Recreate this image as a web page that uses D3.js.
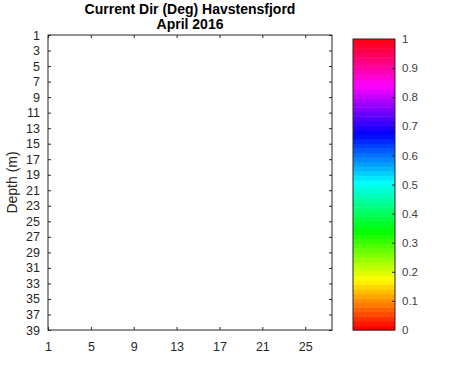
<!DOCTYPE html>
<html>
<head>
<meta charset="utf-8">
<script src="https://cdn.jsdelivr.net/npm/d3@7"></script>
<style>
  body { margin: 0; background: #fff; }
  text { font-family: "Liberation Sans", Arial, sans-serif; }
</style>
</head>
<body>
<div id="chart"></div>
<script>
// chart data
var titleLines = ["Current Dir (Deg) Havstensfjord", "April 2016"];
var yLabel = "Depth (m)";
var depthTicks = [1, 3, 5, 7, 9, 11, 13, 15, 17, 19, 21, 23, 25, 27, 29, 31, 33, 35, 37, 39];
var dayTicks = [1, 5, 9, 13, 17, 21, 25];
var dayRange = [1, 27.5];
var depthRange = [1, 39];
var cbarTicks = [0, 0.1, 0.2, 0.3, 0.4, 0.5, 0.6, 0.7, 0.8, 0.9, 1];
var nColors = 64;

var W = 471, H = 371;
var ink = "#262626";

var svg = d3.select("#chart").append("svg")
    .attr("width", W)
    .attr("height", H);

// main axes box
var plot = {left: 48, top: 35, right: 332, bottom: 330};

var x = d3.scaleLinear().domain(dayRange).range([plot.left, plot.right]);
var y = d3.scaleLinear().domain(depthRange).range([plot.top, plot.bottom]);

var tickLen = 3;

// y ticks + labels
svg.append("g")
    .attr("transform", "translate(" + plot.left + ",0)")
    .call(d3.axisLeft(y).tickValues(depthTicks).tickSize(-tickLen).tickPadding(8).tickFormat(d3.format("d")))
    .call(styleAxis, "12.5px");

svg.append("g")
    .attr("transform", "translate(" + plot.right + ",0)")
    .call(d3.axisRight(y).tickValues(depthTicks).tickSize(-tickLen).tickFormat(""))
    .call(styleAxis, "12.5px");

// x ticks + labels
svg.append("g")
    .attr("transform", "translate(0," + plot.bottom + ")")
    .call(d3.axisBottom(x).tickValues(dayTicks).tickSize(-tickLen).tickPadding(12).tickFormat(d3.format("d")))
    .call(styleAxis, "12.5px");

svg.append("g")
    .attr("transform", "translate(0," + plot.top + ")")
    .call(d3.axisTop(x).tickValues(dayTicks).tickSize(-tickLen).tickFormat(""))
    .call(styleAxis, "12.5px");

svg.selectAll(".domain").remove();

svg.append("rect")
    .attr("x", plot.left).attr("y", plot.top)
    .attr("width", plot.right - plot.left)
    .attr("height", plot.bottom - plot.top)
    .attr("fill", "none")
    .attr("stroke", ink)
    .attr("stroke-width", 1);

function styleAxis(g, size) {
    g.selectAll("line").attr("stroke", ink);
    g.selectAll("text")
        .attr("fill", ink)
        .style("font-size", size)
        .style("font-family", "'Liberation Sans', Arial, sans-serif");
}

// title
svg.append("text")
    .attr("x", (plot.left + plot.right) / 2)
    .attr("y", 14)
    .attr("text-anchor", "middle")
    .style("font-size", "14px")
    .style("font-weight", "bold")
    .attr("fill", "#000")
    .text(titleLines[0]);

svg.append("text")
    .attr("x", (plot.left + plot.right) / 2)
    .attr("y", 29)
    .attr("text-anchor", "middle")
    .style("font-size", "14px")
    .style("font-weight", "bold")
    .attr("fill", "#000")
    .text(titleLines[1]);

// y axis title
svg.append("text")
    .attr("transform", "translate(17," + ((plot.top + plot.bottom) / 2) + ") rotate(-90)")
    .attr("text-anchor", "middle")
    .style("font-size", "14px")
    .attr("fill", ink)
    .text(yLabel);

// colorbar
var cb = {left: 353, top: 39, right: 395, bottom: 330};
var c = d3.scaleLinear().domain([0, 1]).range([cb.bottom, cb.top]);

var steps = d3.range(nColors);
svg.append("g").selectAll("rect")
    .data(steps)
    .enter().append("rect")
    .attr("x", cb.left)
    .attr("width", cb.right - cb.left)
    .attr("y", function(d) { return c((d + 1) / nColors); })
    .attr("height", function(d) { return c(d / nColors) - c((d + 1) / nColors) + 0.5; })
    .attr("fill", function(d) { return d3.hsl(d / nColors * 360, 1, 0.5).toString(); });

svg.append("g")
    .attr("transform", "translate(" + cb.right + ",0)")
    .call(d3.axisRight(c).tickValues(cbarTicks).tickSize(-tickLen).tickPadding(7)
        .tickFormat(function(d) { return d === 0 || d === 1 ? d3.format("d")(d) : d3.format(".1f")(d); }))
    .call(styleAxis, "11.5px")
    .call(function(g) {
        g.select(".domain").remove();
        g.selectAll(".tick line").filter(function(d) { return d === 0 || d === 1; }).remove();
        g.selectAll("text").attr("fill", "#404040");
    });

svg.append("rect")
    .attr("x", cb.left).attr("y", cb.top)
    .attr("width", cb.right - cb.left)
    .attr("height", cb.bottom - cb.top)
    .attr("fill", "none")
    .attr("stroke", ink)
    .attr("stroke-width", 1);
</script>
</body>
</html>
